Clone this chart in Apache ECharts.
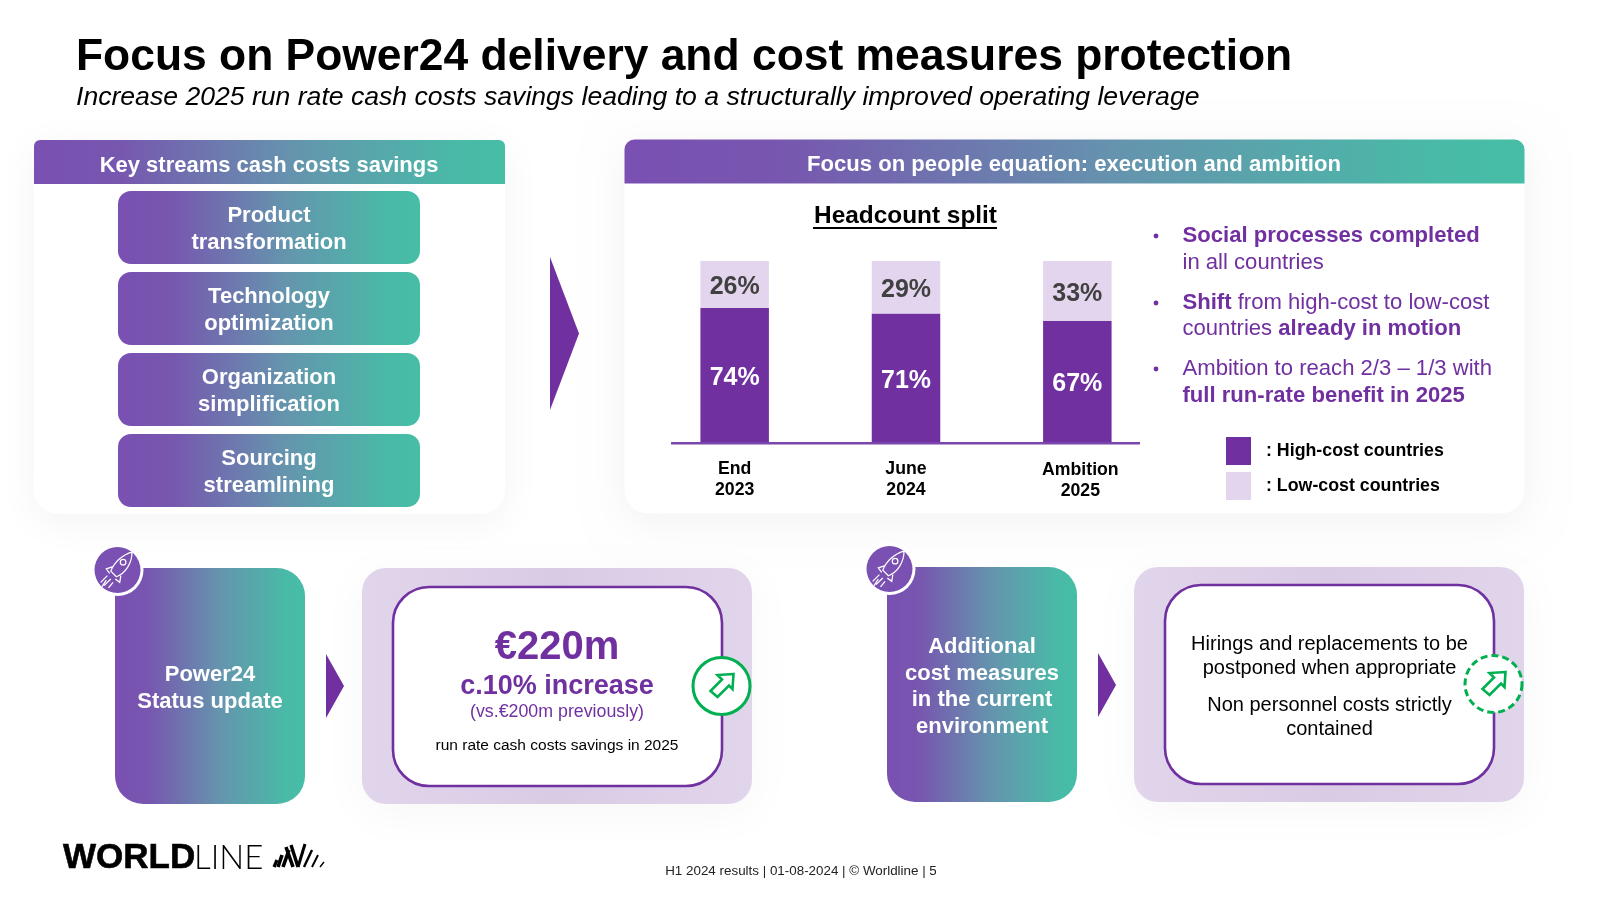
<!DOCTYPE html>
<html>
<head>
<meta charset="utf-8">
<title>Focus on Power24</title>
<script src="https://cdn.jsdelivr.net/npm/echarts@6/dist/echarts.min.js"></script>
<style>
  html,body{margin:0;padding:0;background:#fff;}
  #main{width:1600px;height:900px;}
</style>
</head>
<body>
<div id="main"></div>
<script>
var PURPLE = '#7030A0', LILAC = '#E3D5EE', GREEN = '#00B050';
var FONT = '"Liberation Sans", Arial, sans-serif';

// headcount split, in %
var periods = ['End\n2023', 'June\n2024', {value: 'Ambition\n2025', textStyle: {padding: [1, 0, 0, 6]}}];
var highCost = [74, 71, 67];
var lowCost = [26, 29, 33];

// icons, the graphic component has no plain path element
echarts.graphic.registerShape('rocketIcon', echarts.graphic.extendPath(
  'M13,-16C5,-14,-3,-7,-6,1L-1,6C7,3,13,-6,13,-16ZM7.5,-7A2.5,2.5,0,1,1,2.5,-7A2.5,2.5,0,1,1,7.5,-7ZM-4,-3L-10,-1L-7,3M3,5L2,11L-2,8M-9,5L-15,11M-6,8L-12,14M-10,9L-14,15M-4,11L-8,16', {}));
echarts.graphic.registerShape('arrowIcon', echarts.graphic.extendPath(
  'M11,-12L-5,-11L-0.5,-6.5L-12,5L-5,11L6.5,-0.5L10,3Z', {}));

function grad() {
  return new echarts.graphic.LinearGradient(0, 0, 1, 0, [
    {offset: 0, color: '#7A50B2'},
    {offset: 0.18, color: '#7757AF'},
    {offset: 0.55, color: '#6594AE'},
    {offset: 0.9, color: '#49BAA7'},
    {offset: 1, color: '#46BDA6'}
  ]);
}
function lilacFill() {
  return new echarts.graphic.LinearGradient(0, 0, 1, 0, [
    {offset: 0, color: '#E1D5EC'},
    {offset: 0.5, color: '#D9CBE3'},
    {offset: 1, color: '#E1D5EC'}
  ]);
}
function rect(x, y, w, h, r, style) {
  return {type: 'rect', shape: {x: x, y: y, width: w, height: h, r: r}, style: style};
}
function text(x, y, str, size, color, weight, opts) {
  return {
    type: 'text', x: x, y: y, z: 5,
    style: Object.assign({
      text: str, fill: color, font: (weight || 'normal') + ' ' + size + 'px ' + FONT,
      textAlign: 'center', textVerticalAlign: 'middle'
    }, opts || {})
  };
}
function shadow(fill, alpha) {
  return {fill: fill, shadowBlur: 40, shadowColor: 'rgba(0,0,0,' + alpha + ')', shadowOffsetY: 8};
}
// rich one-line bullet text made of regular and bold runs
function runs(x, y, parts) {
  var str = parts.map(function (p) { return '{' + (p[1] ? 'b' : 'n') + '|' + p[0] + '}'; }).join('');
  return {
    type: 'text', x: x, y: y, z: 5,
    style: {
      text: str, textAlign: 'left', textVerticalAlign: 'middle',
      rich: {
        n: {fontFamily: FONT, fontSize: 22.1, fill: PURPLE, fontWeight: 'normal'},
        b: {fontFamily: FONT, fontSize: 22.1, fill: PURPLE, fontWeight: 'bold'}
      }
    }
  };
}
function rocket(cx, cy) {
  return [
    {type: 'circle', z: 3, shape: {cx: cx, cy: cy, r: 26}, style: {fill: '#fff'}},
    {type: 'circle', z: 4, shape: {cx: cx, cy: cy, r: 23}, style: {fill: '#7A50B2'}},
    {type: 'rocketIcon', z: 5, x: cx, y: cy, scaleX: 1.12, scaleY: 1.12, style: {stroke: '#fff', lineWidth: 1.1, fill: null}}
  ];
}
function greenBadge(cx, cy, dash) {
  return [
    {type: 'circle', z: 6, shape: {cx: cx, cy: cy, r: 28.5},
      style: {fill: '#fff', stroke: GREEN, lineWidth: 3, lineDash: dash ? [7, 4] : null}},
    {type: 'arrowIcon', z: 7, x: cx + 1, y: cy, style: {stroke: GREEN, lineWidth: 2.6, fill: null}}
  ];
}
function triangle(x, w, y1, y2) {
  return {type: 'polygon', shape: {points: [[x, y1], [x + w, (y1 + y2) / 2], [x, y2]]}, style: {fill: PURPLE}};
}

var els = [];

// title
els.push(text(76, 58, 'Focus on Power24 delivery and cost measures protection', 44.4, '#000', 'bold', {textAlign: 'left'}));
els.push(text(76, 98, 'Increase 2025 run rate cash costs savings leading to a structurally improved operating leverage', 26.6, '#000', 'italic', {textAlign: 'left'}));

// left panel
els.push(rect(34, 140, 471, 374, [6, 6, 24, 24], shadow('#fff', 0.05)));
els.push(rect(34, 140, 471, 44, [6, 6, 0, 0], {fill: grad()}));
els.push(text(269, 166, 'Key streams cash costs savings', 22, '#fff', 'bold'));
[
  [191, 'Product', 'transformation'],
  [272, 'Technology', 'optimization'],
  [353, 'Organization', 'simplification'],
  [434, 'Sourcing', 'streamlining']
].forEach(function (b) {
  els.push(rect(118, b[0], 302, 73, 13, {fill: grad()}));
  els.push(text(269, b[0] + 25, b[1], 22, '#fff', 'bold'));
  els.push(text(269, b[0] + 52, b[2], 22, '#fff', 'bold'));
});
els.push(triangle(550, 29, 257, 410));

// right panel
els.push(rect(624.5, 139.5, 900, 374, [10, 10, 24, 24], shadow('#fff', 0.05)));
els.push(rect(624.5, 139.5, 900, 44, [10, 10, 0, 0], {fill: grad()}));
els.push(text(1074, 165, 'Focus on people equation: execution and ambition', 22.1, '#fff', 'bold'));
els.push(text(905.5, 216, 'Headcount split', 24.4, '#000', 'bold'));
els.push(rect(813, 227, 184, 2, 0, {fill: '#000'}));
els.push(rect(671, 442, 469, 2.6, 0, {fill: '#7A45AC'}));

// bullets
[236, 303, 369].forEach(function (y) {
  els.push({type: 'circle', shape: {cx: 1156, cy: y, r: 2.4}, style: {fill: PURPLE}, z: 5});
});
els.push(runs(1182.5, 236, [['Social processes completed', 1]]));
els.push(runs(1182.5, 263, [['in all countries', 0]]));
els.push(runs(1182.5, 303, [['Shift', 1], [' from high-cost to low-cost', 0]]));
els.push(runs(1182.5, 329, [['countries ', 0], ['already in motion', 1]]));
els.push(runs(1182.5, 369, [['Ambition to reach 2/3 \u2013 1/3 with', 0]]));
els.push(runs(1182.5, 396, [['full run-rate benefit in 2025', 1]]));

// bottom left group
els.push(rect(115, 568, 190, 236, 28, {fill: grad()}));
els = els.concat(rocket(117.5, 570));
els.push(text(210, 675, 'Power24', 22, '#fff', 'bold'));
els.push(text(210, 702, 'Status update', 22, '#fff', 'bold'));
els.push(triangle(326, 18, 654, 718));
els.push(rect(362, 568, 390, 236, 24, shadow(lilacFill(), 0.03)));
els.push(rect(393, 587, 329, 199, 36, {fill: '#fff', stroke: PURPLE, lineWidth: 2.6}));
els.push(text(557, 648, '\u20AC220m', 40, PURPLE, 'bold'));
els.push(text(557, 687, 'c.10% increase', 27, PURPLE, 'bold'));
els.push(text(557, 712, '(vs.\u20AC200m previously)', 17.8, PURPLE));
els.push(text(557, 746, 'run rate cash costs savings in 2025', 15.5, '#000'));
els = els.concat(greenBadge(721.5, 686, false));

// bottom right group
els.push(rect(887, 567, 190, 235, 28, {fill: grad()}));
els = els.concat(rocket(889.5, 569));
els.push(text(982, 647, 'Additional', 22, '#fff', 'bold'));
els.push(text(982, 674, 'cost measures', 22, '#fff', 'bold'));
els.push(text(982, 700, 'in the current', 22, '#fff', 'bold'));
els.push(text(982, 727, 'environment', 22, '#fff', 'bold'));
els.push(triangle(1098, 18, 653, 717));
els.push(rect(1134, 567, 390, 235, 24, shadow(lilacFill(), 0.03)));
els.push(rect(1165, 585, 329, 199, 36, {fill: '#fff', stroke: PURPLE, lineWidth: 2.6}));
els.push(text(1329.5, 644.5, 'Hirings and replacements to be', 20, '#000'));
els.push(text(1329.5, 668.5, 'postponed when appropriate', 20, '#000'));
els.push(text(1329.5, 705.5, 'Non personnel costs strictly', 20, '#000'));
els.push(text(1329.5, 729.5, 'contained', 20, '#000'));
els = els.concat(greenBadge(1493.5, 684, true));

// footer
els.push(text(63, 858, 'WORLD', 35, '#000', 'bold', {textAlign: 'left', stroke: '#000', lineWidth: 0.6}));
els.push(text(194, 858, 'LINE', 33, '#000', 'normal', {textAlign: 'left', font: '300 33px Lato, ' + FONT}));
[
  [274, 867, 277, 860, 3.2], [278, 867, 282, 855, 3.6], [283, 867, 289, 850, 3.6],
  [286, 847, 293, 867, 3.6], [291, 845, 298, 867, 3.4], [298, 867, 305, 844, 3],
  [304, 867, 312, 850, 2.4], [312, 867, 318, 855, 1.9], [320, 867, 324, 862, 1.4]
].forEach(function (s) {
  els.push({type: 'line', z: 5, shape: {x1: s[0], y1: s[1], x2: s[2], y2: s[3]}, style: {stroke: '#000', lineWidth: s[4]}});
});
els.push(text(801, 871, 'H1 2024 results | 01-08-2024 | \u00A9 Worldline | 5', 13.4, '#222'));

var myChart = echarts.init(document.getElementById('main'));
var option = {
  animation: false,
  textStyle: {fontFamily: FONT},
  graphic: {elements: els},
  legend: {
    left: 1226, top: 437, padding: 0, orient: 'vertical', itemWidth: 25, itemHeight: 28, itemGap: 7,
    icon: 'rect', selectedMode: false,
    formatter: ': {name}',
    textStyle: {fontSize: 17.8, fontWeight: 'bold', color: '#000', fontFamily: FONT, padding: [5, 0, 0, 10]},
    data: ['High-cost countries', 'Low-cost countries']
  },
  grid: {left: 649, top: 261, width: 514, height: 181},
  xAxis: {
    type: 'category', data: periods,
    axisLine: {show: false}, axisTick: {show: false},
    axisLabel: {color: '#000', fontWeight: 'bold', fontSize: 17.7, lineHeight: 21, margin: 17, interval: 0}
  },
  yAxis: {type: 'value', min: 0, max: 100, show: false},
  series: [
    {
      name: 'High-cost countries', type: 'bar', stack: 'hc', barWidth: 68.5, data: highCost,
      itemStyle: {color: PURPLE},
      label: {show: true, position: 'inside', offset: [0, 3], formatter: '{c}%', color: '#fff', fontWeight: 'bold', fontSize: 25}
    },
    {
      name: 'Low-cost countries', type: 'bar', stack: 'hc', barWidth: 68.5, data: lowCost,
      itemStyle: {color: LILAC},
      label: {show: true, position: 'inside', offset: [0, 3], formatter: '{c}%', color: '#404040', fontWeight: 'bold', fontSize: 25}
    }
  ]
};
myChart.setOption(option);
</script>
</body>
</html>
